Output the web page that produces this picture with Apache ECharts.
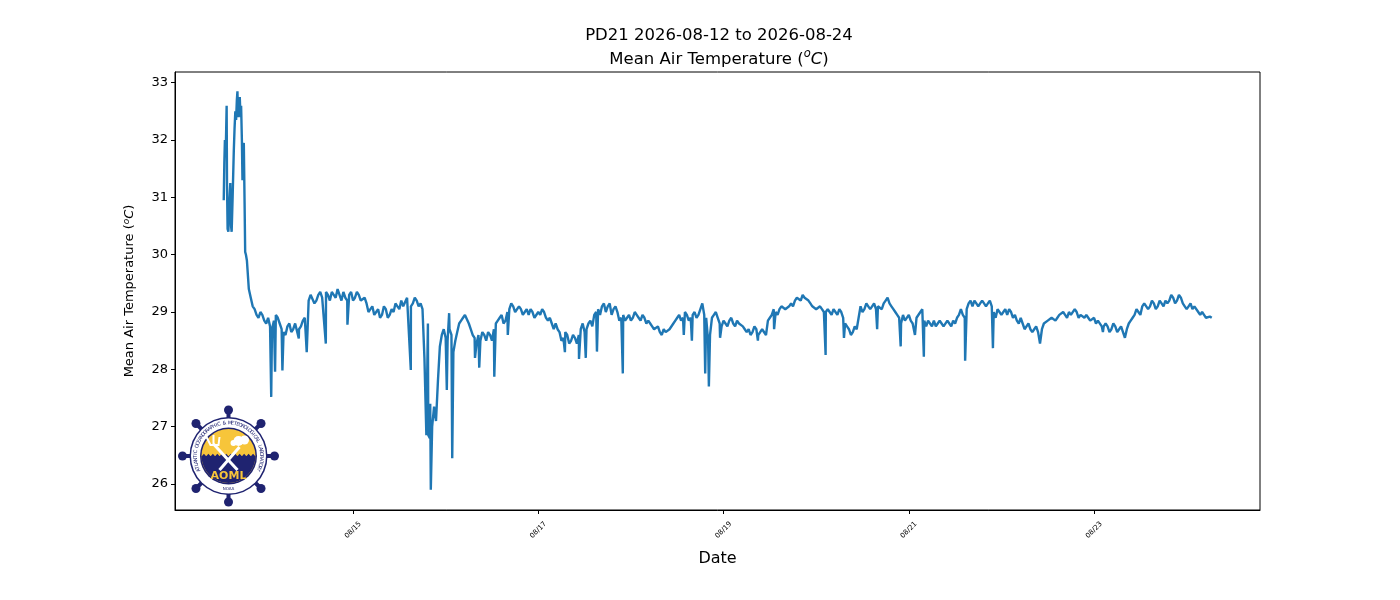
<!DOCTYPE html>
<html>
<head>
<meta charset="utf-8">
<title>PD21 Mean Air Temperature</title>
<script src="https://cdn.jsdelivr.net/npm/echarts@6/dist/echarts.min.js"></script>
<style>
  html, body { margin: 0; padding: 0; background: #fff; }
  #chart { width: 1400px; height: 600px; }
</style>
</head>
<body>
<div id="chart"></div>
<script>
// 采样起点 2026-08-13 14:30，下面的小时数都相对于它
var startTime = new Date(2026, 7, 13, 14, 30).getTime();

// 开头几个小时波动很大，单独按不规则时刻读数
var earlyHours = [0.0, 0.15, 0.3, 0.55, 0.75, 0.85, 1.0, 1.2, 1.45, 1.7, 1.9, 2.05, 2.3, 2.6, 2.8, 3.0,
    3.2, 3.4, 3.55, 3.7, 3.85, 4.0, 4.15, 4.35, 4.5, 4.7, 4.85, 5.0, 5.2, 5.4, 5.55, 5.75];
var earlyTemps = [30.95, 31.6, 32.0, 31.9, 32.6, 31.2, 30.45, 30.4, 30.9, 31.25, 30.5, 30.4, 31.0, 31.8, 32.2, 32.5,
    32.35, 32.7, 32.85, 32.4, 32.7, 32.5, 32.75, 32.4, 32.6, 32.0, 31.3, 31.9, 31.95, 30.9, 30.05, 30.0];

// 第 6 小时起整点读数 (6 ~ 256)
var hourlyFrom = 6;
var hourlyTemps = [
    29.9, 29.25, 29.05, 28.9, 28.95, 28.8, 28.75, 28.85, 28.9, 28.7,
    28.6, 28.8, 28.7, 28.8, 28.75, 28.9, 29.2, 29.3, 29.2, 29.35,
    29.25, 29.3, 29.35, 29.25, 29.3, 29.35, 29.2, 29.35, 29.25, 29.3,
    29.2, 29.15, 29.05, 28.95, 29.05, 28.95, 29.05, 28.95, 29.0, 29.1,
    29.2, 29.1, 29.25, 29.15, 29.2, 29.15, 28.2, 26.85, 27.0, 27.1,
    28.4, 28.7, 28.5, 28.6, 28.5, 28.8, 28.9, 28.95, 28.7, 28.55,
    28.6, 28.65, 28.5, 28.6, 28.7, 28.85, 28.95, 28.85, 29.05, 29.1,
    29.0, 29.05, 29.0, 28.95, 29.0, 28.9, 28.95, 29.0, 28.85, 28.8,
    28.8, 28.65, 28.55, 28.6, 28.5, 28.55, 28.6, 28.8, 28.7, 28.85,
    28.95, 29.05, 29.1, 29.0, 29.15, 29.05, 29.0, 28.9, 28.85, 28.95,
    28.9, 28.95, 28.85, 28.9, 28.85, 28.75, 28.7, 28.65, 28.7, 28.65,
    28.7, 28.85, 28.95, 28.9, 28.95, 28.9, 29.0, 28.95, 29.15, 28.9,
    28.6, 28.95, 28.9, 28.75, 28.8, 28.85, 28.8, 28.85, 28.8, 28.7,
    28.7, 28.65, 28.7, 28.65, 28.7, 28.85, 28.95, 29.0, 29.05, 29.1,
    29.05, 29.15, 29.2, 29.25, 29.3, 29.25, 29.15, 29.1, 29.05, 29.05,
    29.0, 29.0, 29.05, 28.95, 29.0, 28.8, 28.7, 28.65, 28.7, 29.1,
    29.05, 29.1, 29.1, 29.05, 29.1, 29.15, 29.25, 29.1, 29.0, 28.9,
    28.95, 28.85, 28.85, 28.8, 28.9, 29.05, 28.75, 28.8, 28.85, 28.8,
    28.8, 28.75, 28.8, 28.85, 28.9, 29.05, 28.9, 29.15, 29.1, 29.15,
    29.15, 29.15, 29.15, 29.1, 28.9, 29.0, 29.0, 28.95, 29.0, 28.95,
    28.8, 28.8, 28.75, 28.7, 28.7, 28.65, 28.7, 28.8, 28.85, 28.9,
    28.9, 28.95, 28.95, 29.0, 28.95, 29.0, 28.95, 28.9, 28.9, 28.85,
    28.8, 28.85, 28.75, 28.75, 28.7, 28.75, 28.7, 28.65, 28.7, 28.85,
    28.95, 29.0, 29.1, 29.15, 29.1, 29.15, 29.1, 29.15, 29.2, 29.2,
    29.25, 29.2, 29.25, 29.1, 29.1, 29.05, 29.1, 28.95, 28.95, 28.9,
    28.9
];

// 半点读数 (6.5 ~ 255.5)
var halfTemps = [
    29.4, 29.1, 28.95, 29.0, 28.85, 28.9, 28.7, 28.95, 28.8, 28.65,
    28.75, 28.65, 28.8, 28.7, 28.85, 28.3, 29.3, 29.15, 29.3, 29.25,
    29.35, 29.2, 29.3, 29.4, 29.2, 29.25, 29.3, 29.2, 29.35, 29.2,
    29.25, 29.0, 29.1, 29.0, 28.9, 29.1, 28.9, 29.05, 29.15, 29.05,
    29.1, 29.25, 29.1, 29.25, 29.1, 29.05, 26.85, 27.4, 27.35, 27.8,
    28.6, 28.55, 28.7, 28.3, 28.65, 28.85, 28.95, 28.8, 28.6, 28.45,
    28.5, 28.6, 28.65, 28.5, 28.8, 28.9, 28.8, 29.0, 29.15, 29.0,
    29.1, 28.95, 29.05, 29.05, 28.9, 29.0, 29.05, 28.9, 28.9, 28.7,
    28.7, 28.5, 28.65, 28.45, 28.6, 28.45, 28.7, 28.65, 28.8, 28.75,
    29.0, 28.95, 29.15, 29.1, 28.95, 29.1, 28.85, 28.95, 28.9, 28.85,
    29.0, 28.9, 28.95, 28.8, 28.8, 28.7, 28.75, 28.6, 28.65, 28.7,
    28.8, 28.9, 28.85, 29.0, 28.85, 28.95, 28.9, 29.05, 28.95, 28.5,
    28.9, 29.0, 28.8, 28.85, 28.75, 28.9, 28.75, 28.8, 28.75, 28.65,
    28.6, 28.75, 28.6, 28.7, 28.6, 28.9, 29.05, 28.95, 29.1, 29.05,
    29.1, 29.1, 29.25, 29.2, 29.25, 29.2, 29.1, 29.05, 29.1, 29.0,
    29.05, 28.95, 29.0, 29.05, 28.9, 28.75, 28.6, 28.75, 28.9, 29.0,
    29.15, 29.05, 29.15, 29.1, 29.05, 29.2, 29.15, 29.05, 28.95, 28.8,
    28.85, 28.95, 28.8, 28.9, 29.0, 28.85, 28.85, 28.75, 28.75, 28.85,
    28.75, 28.85, 28.75, 28.8, 28.95, 28.95, 29.05, 29.2, 29.2, 29.1,
    29.2, 29.1, 29.2, 29.0, 29.05, 28.95, 29.05, 29.05, 28.9, 28.85,
    28.9, 28.7, 28.8, 28.65, 28.75, 28.45, 28.8, 28.85, 28.9, 28.85,
    28.95, 29.0, 28.9, 28.95, 29.05, 28.9, 28.95, 28.95, 28.85, 28.9,
    28.85, 28.75, 28.8, 28.65, 28.8, 28.65, 28.75, 28.55, 28.8, 28.9,
    29.05, 28.95, 29.15, 29.05, 29.2, 29.05, 29.2, 29.1, 29.15, 29.3,
    29.15, 29.3, 29.15, 29.05, 29.15, 29.1, 29.0, 29.0, 28.9, 28.92
];

// 尖峰 (短时下探/上冲) 单独记录
var spikeHours = [12.3, 13.3, 15.2, 19.45, 26.45, 32.05, 48.47, 52.9, 53.4, 53.65, 57.8, 58.4, 59.2,
    65.1, 66.2, 70.1, 73.6, 88.4, 92.05, 93.8, 96.7, 103.4, 119.2, 121.3, 124.75, 125.7, 128.6, 138.4,
    142.6, 155.95, 160.7, 169.3, 175.4, 179.1, 181.4, 192.1, 199.3, 227.8];
var spikeTemps = [27.52, 27.96, 27.98, 28.54, 28.45, 28.78, 27.99, 28.8, 26.8, 25.9, 27.64, 28.98, 26.45,
    28.2, 28.03, 27.87, 28.6, 28.3, 28.18, 28.2, 28.31, 27.93, 28.6, 28.5, 27.93, 27.7, 28.55, 28.5,
    28.7, 28.25, 28.55, 28.7, 28.4, 28.6, 28.22, 28.15, 28.37, 28.65];

// 坐标轴
var xTickDays = [15, 17, 19, 21, 23];
var yTicks = [26, 27, 28, 29, 30, 31, 32, 33];
var xMinHour = -12.63, xMaxHour = 268.5;
var yMin = 25.547, yMax = 33.187;

var HOUR = 3600 * 1000;

function dayToHour(d) {
    return (new Date(2026, 7, d).getTime() - startTime) / HOUR;
}
var xTickHours = xTickDays.map(dayToHour);

function pad2(n) { return (n < 10 ? '0' : '') + n; }

function buildSeries() {
    var pts = [];
    var i;
    for (i = 0; i < earlyHours.length; i++) pts.push([earlyHours[i], earlyTemps[i]]);
    for (i = 0; i < hourlyTemps.length; i++) pts.push([hourlyFrom + i, hourlyTemps[i]]);
    for (i = 0; i < halfTemps.length; i++) pts.push([hourlyFrom + i + 0.5, halfTemps[i]]);
    for (i = 0; i < spikeHours.length; i++) pts.push([spikeHours[i], spikeTemps[i]]);
    pts.sort(function(a, b) { return a[0] - b[0]; });
    return pts;
}

// AOML 标志 (手画近似)
function buildLogo() {
    var cx = 228.5, cy = 456, navy = '#1f2370', gold = '#f7c53a';
    var els = [];
    var k;
    for (k = 0; k < 8; k++) {
        var a = k * Math.PI / 4;
        els.push({ type: 'line', shape: { x1: cx, y1: cy, x2: cx + 46 * Math.cos(a), y2: cy - 46 * Math.sin(a) },
            style: { stroke: navy, lineWidth: 4 } });
        els.push({ type: 'circle', shape: { cx: cx + 46 * Math.cos(a), cy: cy - 46 * Math.sin(a), r: 4.5 },
            style: { fill: navy } });
    }
    els.push({ type: 'circle', shape: { cx: cx, cy: cy, r: 39 }, style: { fill: navy } });
    els.push({ type: 'circle', shape: { cx: cx, cy: cy, r: 37.5 }, style: { fill: '#fff' } });
    els.push({ type: 'circle', shape: { cx: cx, cy: cy, r: 28.5 }, style: { fill: navy } });
    els.push({ type: 'circle', shape: { cx: cx, cy: cy, r: 27 }, style: { fill: gold } });
    els.push({ type: 'sector', shape: { cx: cx, cy: cy, r: 27, startAngle: 0, endAngle: Math.PI },
        style: { fill: navy } });
    var wave = [];
    for (k = 0; k <= 24; k++) {
        var wx = cx - 26.8 + k * 53.6 / 24;
        wave.push([wx, cy - 1 + (k % 2 ? -1.2 : 1.2)]);
    }
    wave.push([cx + 26.8, cy + 3], [cx - 26.8, cy + 3]);
    els.push({ type: 'polygon', shape: { points: wave }, style: { fill: navy } });
    // 交叉的三叉戟和树
    els.push({ type: 'line', shape: { x1: cx - 15, y1: cy - 12, x2: cx + 9, y2: cy + 14 }, style: { stroke: '#fff', lineWidth: 3 } });
    els.push({ type: 'line', shape: { x1: cx + 11, y1: cy - 9, x2: cx - 9, y2: cy + 14 }, style: { stroke: '#fff', lineWidth: 3 } });
    els.push({ type: 'polyline', shape: { points: [[cx - 22, cy - 19], [cx - 18, cy - 11], [cx - 10, cy - 11], [cx - 9, cy - 19]] },
        style: { stroke: '#fff', lineWidth: 2, fill: null } });
    els.push({ type: 'line', shape: { x1: cx - 15, y1: cy - 12, x2: cx - 15, y2: cy - 21 }, style: { stroke: '#fff', lineWidth: 2 } });
    els.push({ type: 'circle', shape: { cx: cx + 10, cy: cy - 15, r: 5 }, style: { fill: '#fff' } });
    els.push({ type: 'circle', shape: { cx: cx + 16, cy: cy - 16, r: 4.5 }, style: { fill: '#fff' } });
    els.push({ type: 'circle', shape: { cx: cx + 5, cy: cy - 13, r: 3 }, style: { fill: '#fff' } });
    els.push({ type: 'text', x: cx, y: cy + 20, style: { text: 'AOML', fill: gold, font: 'bold 11px "DejaVu Sans"',
        align: 'center', verticalAlign: 'middle' } });
    els.push({ type: 'text', x: cx, y: cy + 33, style: { text: 'NOAA', fill: navy, font: '4px "DejaVu Sans"',
        align: 'center', verticalAlign: 'middle' } });
    // 环形文字
    var ring = 'ATLANTIC OCEANOGRAPHIC & METEOROLOGICAL LABORATORY';
    var a0 = 205 * Math.PI / 180, a1 = -25 * Math.PI / 180;
    for (k = 0; k < ring.length; k++) {
        var t = a0 + (a1 - a0) * k / (ring.length - 1);
        els.push({ type: 'text', x: cx + 33 * Math.cos(t), y: cy - 33 * Math.sin(t), rotation: t - Math.PI / 2,
            style: { text: ring.charAt(k), fill: navy, font: '5px "DejaVu Sans"', align: 'center', verticalAlign: 'middle' } });
    }
    return els;
}

var richName = {
    t: { fontFamily: 'DejaVu Sans', fontSize: 13, color: '#000' },
    s: { fontFamily: 'DejaVu Sans', fontSize: 9, fontStyle: 'italic', color: '#000', verticalAlign: 'top', padding: [0, 0, 6, 0] },
    i: { fontFamily: 'DejaVu Sans', fontSize: 13, fontStyle: 'italic', color: '#000' }
};
var richTitle = {
    t: { fontFamily: 'DejaVu Sans', fontSize: 16.5, fontWeight: 'normal', color: '#000', lineHeight: 24 },
    s: { fontFamily: 'DejaVu Sans', fontSize: 11.5, fontWeight: 'normal', fontStyle: 'italic', color: '#000', verticalAlign: 'top', padding: [0, 0, 8, 0], lineHeight: 24 },
    i: { fontFamily: 'DejaVu Sans', fontSize: 16.5, fontWeight: 'normal', fontStyle: 'italic', color: '#000', lineHeight: 24 }
};

var chart = echarts.init(document.getElementById('chart'), null, { renderer: 'canvas' });

var option = {
    animation: false,
    backgroundColor: '#fff',
    title: {
        text: '{t|PD21 2026-08-12 to 2026-08-24}\n{t|Mean Air Temperature (}{s|o}{i|C}{t|)}',
        left: 714,
        top: 19,
        textAlign: 'center',
        textStyle: { fontWeight: 'normal', rich: richTitle }
    },
    grid: {
        left: 175, right: 140, top: 72, bottom: 90,
        show: true, borderColor: '#000', borderWidth: 1, backgroundColor: 'transparent'
    },
    xAxis: {
        type: 'value',
        min: xMinHour,
        max: xMaxHour,
        name: 'Date',
        nameLocation: 'middle',
        nameGap: 41,
        nameTextStyle: { fontFamily: 'DejaVu Sans', fontSize: 16, color: '#000' },
        axisLine: { show: true, onZero: false, lineStyle: { color: '#000', width: 1 } },
        axisTick: { show: true, inside: false, length: 4, lineStyle: { color: '#000' }, customValues: xTickHours },
        axisLabel: {
            show: true,
            rotate: 45,
            margin: 20,
            align: 'center',
            verticalAlign: 'middle',
            fontFamily: 'DejaVu Sans',
            fontSize: 7,
            color: '#000',
            customValues: xTickHours,
            formatter: function(v) {
                var d = new Date(startTime + v * HOUR + 60000);
                return pad2(d.getMonth() + 1) + '/' + pad2(d.getDate());
            }
        },
        splitLine: { show: false }
    },
    yAxis: {
        type: 'value',
        min: yMin,
        max: yMax,
        name: '{t|Mean Air Temperature (}{s|o}{i|C}{t|)}',
        nameLocation: 'middle',
        nameRotate: 90,
        nameGap: 38,
        nameTextStyle: { rich: richName },
        axisLine: { show: true, onZero: false, lineStyle: { color: '#000', width: 1 } },
        axisTick: { show: true, inside: false, length: 4, lineStyle: { color: '#000' }, customValues: yTicks },
        axisLabel: { show: true, margin: 7, fontFamily: 'DejaVu Sans', fontSize: 13, color: '#000', customValues: yTicks },
        splitLine: { show: false }
    },
    series: [{
        type: 'line',
        data: buildSeries(),
        showSymbol: false,
        symbol: 'none',
        lineStyle: { color: '#1f77b4', width: 2.4 },
        clip: true
    }],
    graphic: buildLogo()
};

chart.setOption(option);
</script>
</body>
</html>
